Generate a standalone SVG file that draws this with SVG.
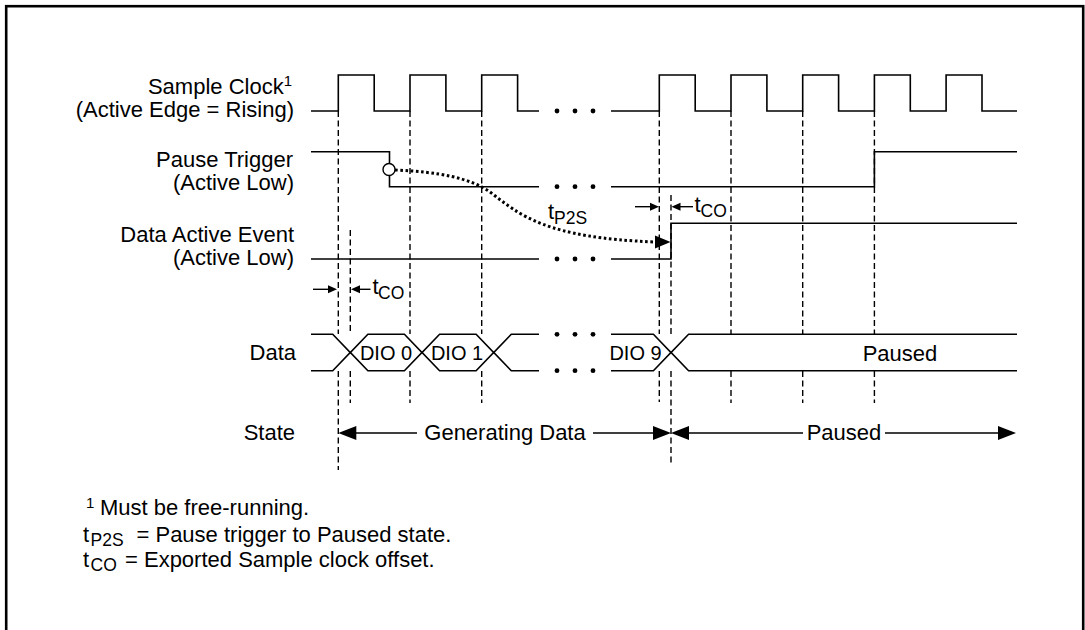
<svg xmlns="http://www.w3.org/2000/svg" width="1085" height="630" viewBox="0 0 1085 630">
  <style>
    text { font-family: "Liberation Sans", Arial, sans-serif; font-size: 22px; fill: #000; }
    .lbl { text-anchor: end; }
    .mid { text-anchor: middle; }
    .bus { font-size: 20px; }
    .sub { font-size: 17.5px; }
    .sup { font-size: 15px; }
    .wave { fill: none; stroke: #000; stroke-width: 1.6; }
    .guide { fill: none; stroke: #000; stroke-width: 1.4; stroke-dasharray: 6 3.5; }
    .dotted { fill: none; stroke: #000; stroke-width: 3; stroke-dasharray: 2.6 2.6; }
    .dot { fill: #000; }
    .head { fill: #000; }
    .thin { fill: none; stroke: #000; stroke-width: 1.4; }
  </style>

  <!-- outer frame -->
  <rect x="6.2" y="6.2" width="1077" height="700" fill="none" stroke="#000" stroke-width="2.6"/>

  <!-- signal names -->
  <g id="labels">
    <text class="lbl" x="292" y="94">Sample Clock<tspan class="sup" dy="-8">1</tspan></text>
    <text class="lbl" x="294" y="116.7">(Active Edge = Rising)</text>
    <text class="lbl" x="293" y="166.5">Pause Trigger</text>
    <text class="lbl" x="294" y="190">(Active Low)</text>
    <text class="lbl" x="294" y="241.5">Data Active Event</text>
    <text class="lbl" x="294" y="264.5">(Active Low)</text>
    <text class="lbl" x="296" y="360">Data</text>
    <text class="lbl" x="295" y="440">State</text>
  </g>

  <!-- dashed timing guides (broken across the data bus) -->
  <g id="guides">
    <path class="guide" d="M338.3,111 V334 M338.3,371 V470"/>
    <path class="guide" d="M350.3,230 V334 M350.3,371 V403"/>
    <path class="guide" d="M410,111 V334 M410,371 V403"/>
    <path class="guide" d="M481.7,111 V334 M481.7,371 V403"/>
    <path class="guide" d="M659.3,111 V334 M659.3,371 V402"/>
    <path class="guide" d="M671,195 V334 M671,371 V463"/>
    <path class="guide" d="M731,111 V334 M731,371 V403"/>
    <path class="guide" d="M802.7,111 V334 M802.7,371 V403"/>
    <path class="guide" d="M874.4,111 V334 M874.4,371 V403"/>
  </g>

  <!-- Sample Clock -->
  <g id="sample-clock">
    <path class="wave" d="M311,111 H338.3 V75 H374.2 V111 H410 V75 H445.9 V111 H481.7 V75 H517.6 V111 H539"/>
    <path class="wave" d="M611,111 H659.3 V75 H695.2 V111 H731 V75 H766.9 V111 H802.7 V75 H838.6 V111 H874.4 V75 H910.3 V111 H946.1 V75 H982 V111 H1017"/>
    <circle class="dot" cx="557" cy="111" r="2.4"/>
    <circle class="dot" cx="575" cy="111" r="2.4"/>
    <circle class="dot" cx="593" cy="111" r="2.4"/>
  </g>

  <!-- Pause Trigger -->
  <g id="pause-trigger">
    <path class="wave" d="M311,151.7 H389.5 V186.7 H539"/>
    <path class="wave" d="M611,186.7 H874.4 V151.7 H1017"/>
    <circle cx="389" cy="169.5" r="6" fill="#fff" stroke="#000" stroke-width="1.4"/>
    <circle class="dot" cx="557" cy="186.7" r="2.4"/>
    <circle class="dot" cx="575" cy="186.7" r="2.4"/>
    <circle class="dot" cx="593" cy="186.7" r="2.4"/>
  </g>

  <!-- Data Active Event -->
  <g id="data-active-event">
    <path class="wave" d="M311,259 H539"/>
    <path class="wave" d="M611,259 H671 V223.3 H1017"/>
    <circle class="dot" cx="557" cy="259" r="2.4"/>
    <circle class="dot" cx="575" cy="259" r="2.4"/>
    <circle class="dot" cx="593" cy="259" r="2.4"/>
  </g>

  <!-- Data bus -->
  <g id="data-bus">
    <path class="wave" d="M311,334.3 H332.7 L350.3,352.5 L367.9,334.3 H404.4 L422,352.5 L439.6,334.3 H476.1 L493.7,352.5 L511.3,334.3 H539"/>
    <path class="wave" d="M311,370.7 H332.7 L350.3,352.5 L367.9,370.7 H404.4 L422,352.5 L439.6,370.7 H476.1 L493.7,352.5 L511.3,370.7 H539"/>
    <path class="wave" d="M611,334.3 H653.4 L671,352.5 L688.6,334.3 H1017"/>
    <path class="wave" d="M611,370.7 H653.4 L671,352.5 L688.6,370.7 H1017"/>
    <circle class="dot" cx="557" cy="334.3" r="2.4"/>
    <circle class="dot" cx="575" cy="334.3" r="2.4"/>
    <circle class="dot" cx="593" cy="334.3" r="2.4"/>
    <circle class="dot" cx="557" cy="370.7" r="2.4"/>
    <circle class="dot" cx="575" cy="370.7" r="2.4"/>
    <circle class="dot" cx="593" cy="370.7" r="2.4"/>
    <text class="bus mid" x="386" y="360">DIO 0</text>
    <text class="bus mid" x="457" y="360">DIO 1</text>
    <text class="bus mid" x="635.5" y="360">DIO 9</text>
    <text class="mid" x="900" y="361">Paused</text>
  </g>

  <!-- connectors: trigger-to-pause delay and clock offsets -->
  <g id="connectors">
    <path class="dotted" d="M395,170 C440,172 470,178 490,192 C520,215 545,238 656,242"/>
    <polygon class="head" points="670.5,242 655,235.5 655,248.5"/>
    <text x="548" y="219">t</text>
    <text class="sub" x="554" y="223.5">P2S</text>

    <!-- offset markers after the pause -->
    <path class="thin" d="M635,206.7 H652"/>
    <polygon class="head" points="659,206.7 650,202.7 650,210.7"/>
    <path class="thin" d="M680,206.7 H693"/>
    <polygon class="head" points="671.5,206.7 680.5,202.7 680.5,210.7"/>
    <text x="694.5" y="211.7">t</text>
    <text class="sub" x="700.5" y="216.5">CO</text>

    <!-- offset markers at the first edge -->
    <path class="thin" d="M313,289.3 H330"/>
    <polygon class="head" points="337,289.3 328,285.3 328,293.3"/>
    <path class="thin" d="M360,289.3 H370.5"/>
    <polygon class="head" points="351,289.3 360,285.3 360,293.3"/>
    <text x="372.5" y="293.5">t</text>
    <text class="sub" x="378" y="298.5">CO</text>
  </g>

  <!-- State row -->
  <g id="state">
    <path class="thin" d="M355,433 H417 M593,433 H654"/>
    <polygon class="head" points="338.3,433 356.3,426 356.3,440"/>
    <polygon class="head" points="671,433 653,426 653,440"/>
    <text class="mid" x="505" y="440">Generating Data</text>
    <path class="thin" d="M688,433 H803 M885,433 H999"/>
    <polygon class="head" points="671,433 689,426 689,440"/>
    <polygon class="head" points="1016,433 998,426 998,440"/>
    <text class="mid" x="844" y="440">Paused</text>
  </g>

  <!-- footnotes -->
  <g id="notes">
    <text class="sup" x="86" y="508">1</text>
    <text x="100" y="515">Must be free-running.</text>
    <text x="83" y="541.7">t</text>
    <text class="sub" x="90.5" y="545.5">P2S</text>
    <text x="136.5" y="541.7">= Pause trigger to Paused state.</text>
    <text x="83" y="567">t</text>
    <text class="sub" x="90.5" y="571">CO</text>
    <text x="125" y="567">= Exported Sample clock offset.</text>
  </g>
</svg>
